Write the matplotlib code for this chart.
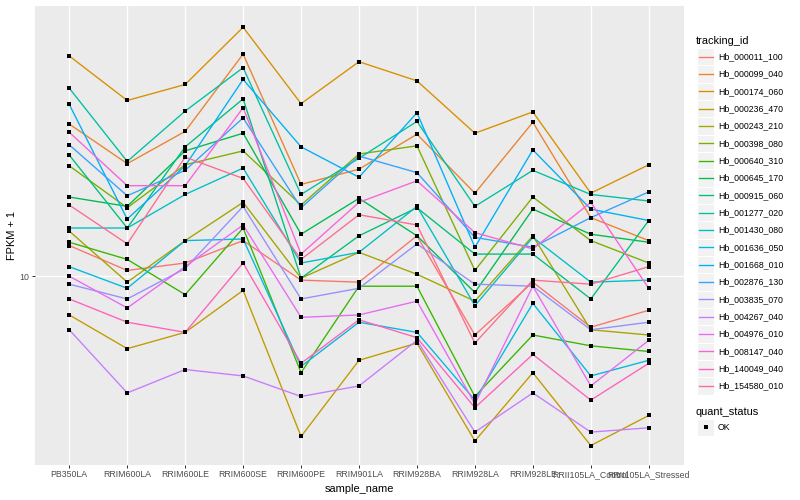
import numpy as np
import matplotlib
matplotlib.use("Agg")
import matplotlib.pyplot as plt
from matplotlib.patches import Rectangle
from matplotlib.lines import Line2D

plt.rcParams['font.family'] = ['Liberation Sans', 'DejaVu Sans']

samples = ["PB350LA", "RRIM600LA", "RRIM600LE", "RRIM600SE", "RRIM600PE",
           "RRIM901LA", "RRIM928BA", "RRIM928LA", "RRIM928LE",
           "RRII105LA_Control", "RRII105LA_Stressed"]

tracking_ids = ["Hb_000011_100", "Hb_000099_040", "Hb_000174_060", "Hb_000236_470",
                "Hb_000243_210", "Hb_000398_080", "Hb_000640_310", "Hb_000645_170",
                "Hb_000915_060", "Hb_001277_020", "Hb_001430_080", "Hb_001636_050",
                "Hb_001668_010", "Hb_002876_130", "Hb_003835_070", "Hb_004267_040",
                "Hb_004976_010", "Hb_008147_040", "Hb_140049_040", "Hb_154580_010"]

# FPKM + 1 per sample
hb_000011_100 = [11.7, 10.3, 10.7, 12.0, 9.8, 9.7, 12.3, 7.4, 9.7, 7.7, 8.4]
hb_000099_040 = [21.8, 17.8, 21.0, 31.2, 16.0, 17.3, 20.7, 15.3, 22.0, 13.5, 12.0]
hb_000174_060 = [30.9, 24.6, 26.7, 35.8, 24.2, 30.0, 27.2, 20.8, 23.2, 15.3, 17.7]
hb_000236_470 = [8.2, 6.9, 7.5, 9.3, 4.4, 6.5, 7.1, 4.3, 6.1, 4.2, 4.9]
hb_000243_210 = [12.6, 9.7, 12.0, 14.6, 9.9, 11.3, 10.1, 8.8, 12.3, 7.6, 7.4]
hb_000398_080 = [17.6, 14.2, 17.7, 19.0, 14.4, 18.7, 19.5, 10.3, 15.0, 12.0, 10.7]
hb_000640_310 = [11.9, 10.9, 9.1, 12.8, 6.1, 9.5, 9.5, 5.4, 7.4, 7.0, 6.8]
hb_000645_170 = [15.0, 14.3, 19.0, 20.8, 12.4, 14.9, 12.3, 9.2, 14.1, 12.4, 11.9]
hb_000915_060 = [18.6, 12.8, 19.4, 24.8, 9.9, 12.3, 14.2, 11.2, 11.2, 8.9, 13.3]
hb_001277_020 = [26.2, 18.0, 23.3, 29.1, 15.2, 18.3, 22.1, 14.3, 17.2, 15.2, 14.7]
hb_001430_080 = [12.8, 12.8, 15.2, 17.4, 10.7, 11.3, 14.3, 8.6, 12.2, 9.7, 9.8]
hb_001636_050 = [10.5, 9.4, 12.0, 12.1, 6.3, 7.9, 7.5, 5.3, 8.7, 6.0, 6.5]
hb_001668_010 = [24.1, 13.4, 17.6, 27.4, 19.4, 16.6, 23.1, 11.6, 19.1, 14.1, 13.3]
hb_002876_130 = [19.6, 15.1, 17.2, 22.5, 14.2, 18.5, 17.0, 12.2, 11.6, 13.5, 15.4]
hb_003835_070 = [9.6, 8.9, 10.4, 14.3, 8.9, 9.4, 11.8, 9.6, 9.5, 7.6, 7.9]
hb_004267_040 = [7.6, 5.5, 6.2, 6.0, 5.4, 5.7, 7.2, 4.5, 5.5, 4.5, 4.6]
hb_004976_010 = [10.0, 8.5, 10.5, 13.0, 8.1, 8.2, 8.8, 5.2, 9.5, 5.7, 7.2]
hb_008147_040 = [20.9, 15.9, 15.9, 23.7, 11.2, 14.6, 16.3, 12.5, 11.5, 14.6, 9.4]
hb_140049_040 = [8.9, 7.9, 7.5, 10.7, 6.4, 8.0, 7.3, 5.1, 6.7, 5.3, 6.4]
hb_154580_010 = [14.4, 11.8, 18.4, 16.5, 10.9, 13.7, 13.0, 7.1, 9.8, 9.6, 10.5]

series = [hb_000011_100, hb_000099_040, hb_000174_060, hb_000236_470, hb_000243_210,
          hb_000398_080, hb_000640_310, hb_000645_170, hb_000915_060, hb_001277_020,
          hb_001430_080, hb_001636_050, hb_001668_010, hb_002876_130, hb_003835_070,
          hb_004267_040, hb_004976_010, hb_008147_040, hb_140049_040, hb_154580_010]

colors = ["#F8766D", "#EA8331", "#D89000", "#C09B00", "#A3A500", "#7CAE00", "#39B600",
          "#00BB4E", "#00BF7D", "#00C1A3", "#00BFC4", "#00BAE0", "#00B0F6", "#35A2FF",
          "#9590FF", "#C77CFF", "#E76BF3", "#FA62DB", "#FF62BC", "#FF6C91"]

W, H = 800, 500
fig = plt.figure(figsize=(8, 5), dpi=100)
px = 72 / 100.0  # points per pixel

L, R, T, B = 34.5, 683.5, 5.5, 465.0
ax = fig.add_axes([L / W, 1 - B / H, (R - L) / W, (B - T) / H])
ax.set_facecolor("#EBEBEB")
for s in ax.spines.values():
    s.set_visible(False)

x = np.arange(len(samples))
line_w = 1.35 * px
for vals, col in zip(series, colors):
    ax.plot(x, vals, color=col, lw=line_w, zorder=3, solid_capstyle='butt')
for vals in series:
    ax.plot(x, vals, ls='none', marker='s', ms=3.4 * px, color='black', zorder=4, mew=0)

ax.set_yscale('log')
ax.set_xlim(-0.6, len(samples) - 1 + 0.6)
ax.set_ylim(10 ** (1 - 189 / 450.0), 10 ** (1 + 271 / 450.0))
ax.set_yticks([10])
ax.set_yticklabels(["10"])
ax.yaxis.set_minor_locator(matplotlib.ticker.NullLocator())
ax.set_xticks(x)
ax.set_xticklabels(samples)
ax.grid(True, color='white', lw=1.4 * px, zorder=0)
ax.set_axisbelow(True)
ax.tick_params(axis='both', length=2.75 * px, width=1.0 * px, color='#333333',
               labelsize=8.8 * px, labelcolor='#4D4D4D', pad=2.2 * px)

fig.text(L / W + (R - L) / W / 2, 1 - 488.5 / H, "sample_name", ha='center', va='center',
         fontsize=11 * px, color='black')
fig.text(12.5 / W, 1 - (T + B) / 2 / H, "FPKM + 1", ha='center', va='center', rotation=90,
         fontsize=11 * px, color='black')

# legend
lg = fig.add_axes([0, 0, 1, 1], facecolor='none')
lg.set_xlim(0, W)
lg.set_ylim(H, 0)
lg.axis('off')
lg.text(696, 40.5, "tracking_id", ha='left', va='center', fontsize=11 * px)
y0, dy = 56.7, 17.33
for i, (name, col) in enumerate(zip(tracking_ids, colors)):
    yc = y0 + i * dy
    lg.add_patch(Rectangle((697, yc - dy / 2), 17.3, dy, facecolor='#F2F2F2', edgecolor='white', lw=0.8))
    lg.add_line(Line2D([698.7, 712.6], [yc, yc], color=col, lw=line_w))
    lg.text(718, yc, name, ha='left', va='center', fontsize=8.8 * px)
lg.text(696, 411.7, "quant_status", ha='left', va='center', fontsize=11 * px)
lg.add_patch(Rectangle((697, 427.3 - dy / 2), 17.3, dy, facecolor='#F2F2F2', edgecolor='white', lw=0.8))
lg.plot([705.6], [427.3], marker='s', ms=3.4 * px, color='black', mew=0)
lg.text(718, 427.3, "OK", ha='left', va='center', fontsize=8.8 * px)

fig.savefig("out.png", dpi=100)
